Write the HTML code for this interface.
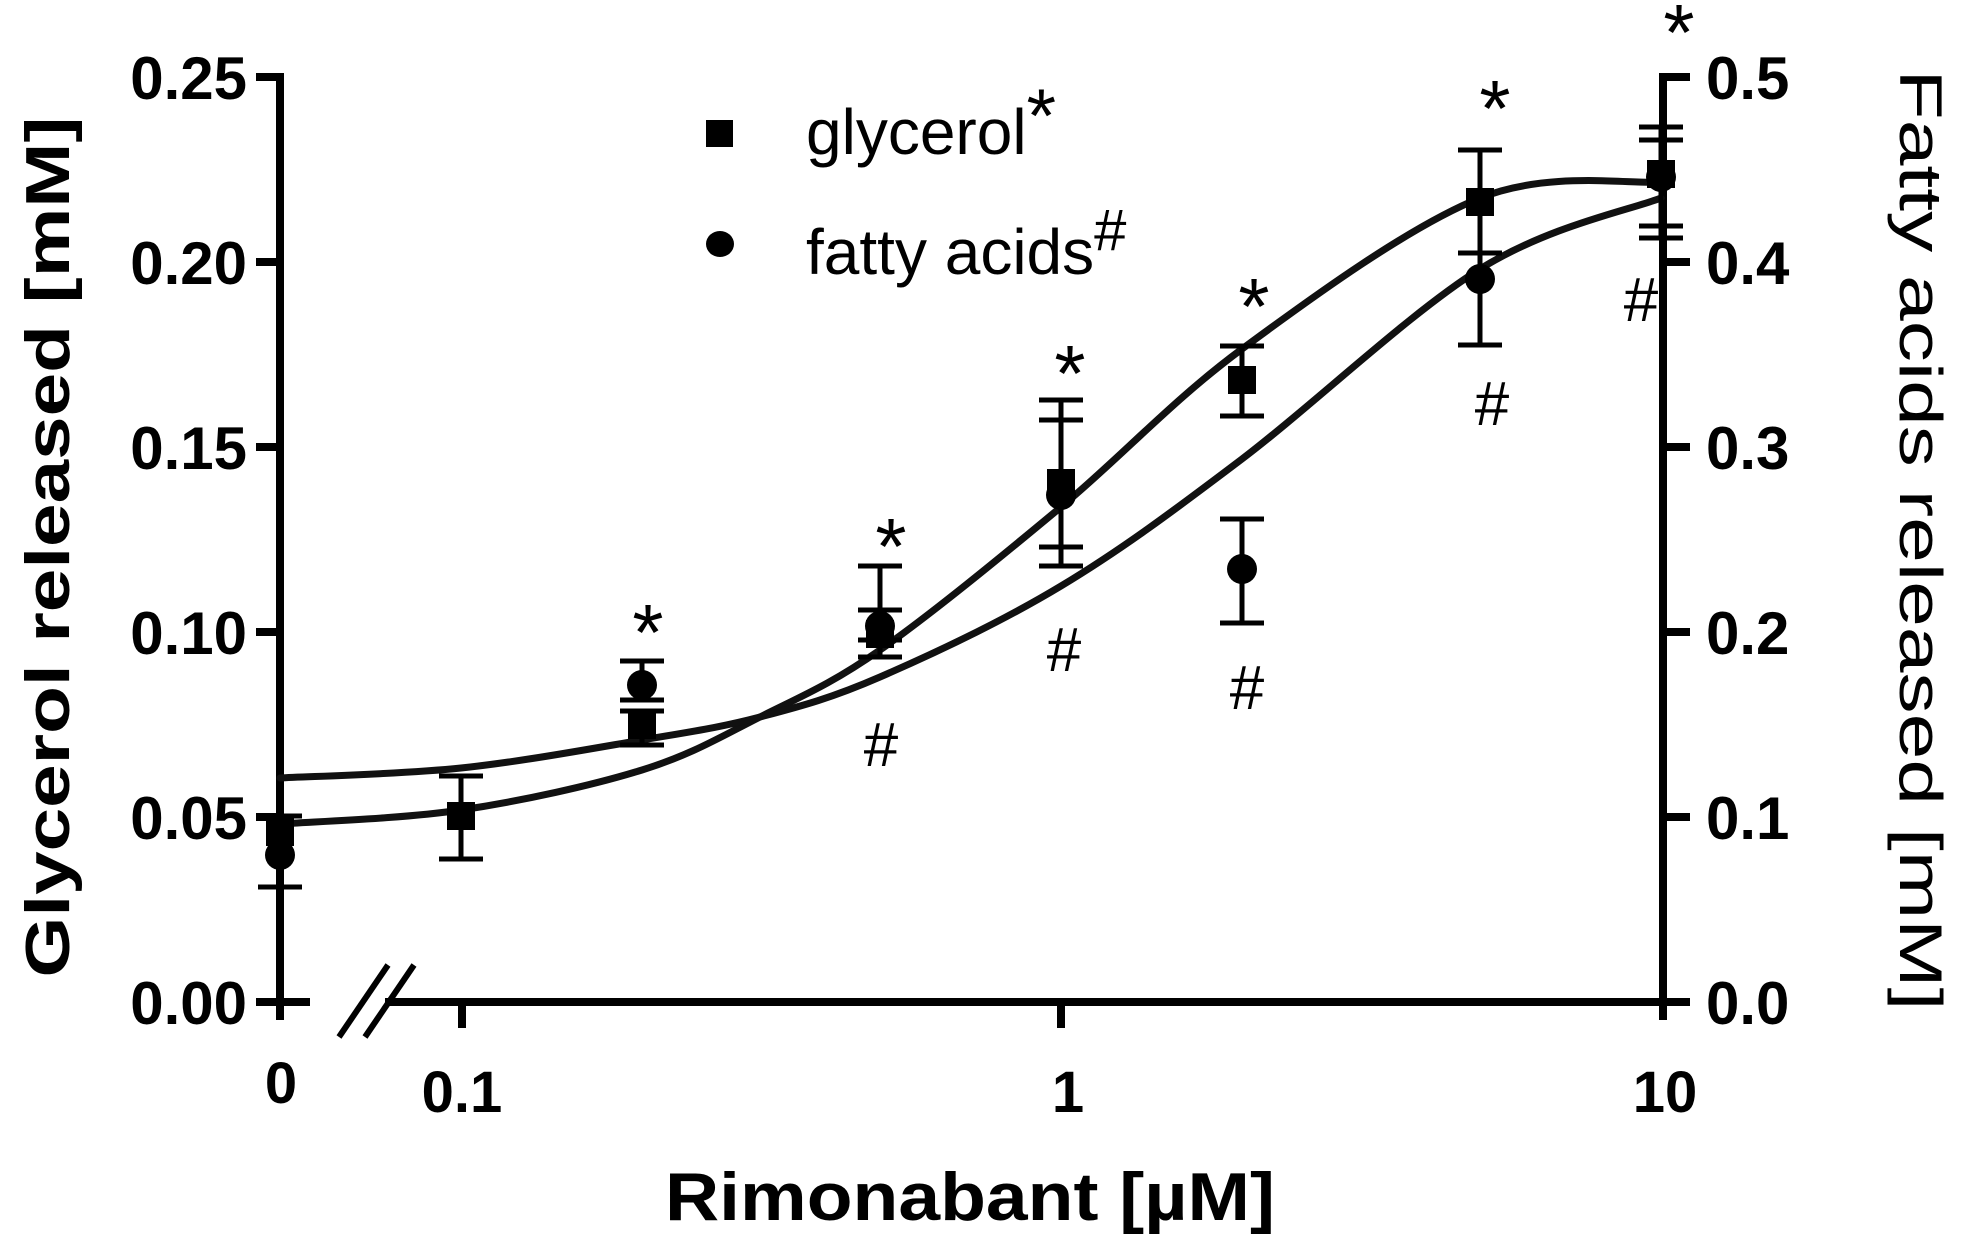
<!DOCTYPE html>
<html><head><meta charset="utf-8"><style>
html,body{margin:0;padding:0;background:#fff;}
svg{display:block;}
text{font-family:"Liberation Sans",Arial,sans-serif;fill:#000;}
.b{font-weight:bold;}
</style></head><body>
<svg id="s" width="1962" height="1242" viewBox="0 0 1962 1242" xmlns="http://www.w3.org/2000/svg">
<g stroke="#000" stroke-width="8" fill="none">
<line x1="280" y1="73" x2="280" y2="1020"/>
<line x1="276" y1="1002" x2="1690" y2="1002"/>
<line x1="1663" y1="73" x2="1663" y2="1020"/>
<line x1="256" y1="77" x2="280" y2="77"/>
<line x1="256" y1="262" x2="280" y2="262"/>
<line x1="256" y1="447" x2="280" y2="447"/>
<line x1="256" y1="632" x2="280" y2="632"/>
<line x1="256" y1="817" x2="280" y2="817"/>
<line x1="256" y1="1002" x2="280" y2="1002"/>
<line x1="1663" y1="77" x2="1690" y2="77"/>
<line x1="1663" y1="262" x2="1690" y2="262"/>
<line x1="1663" y1="447" x2="1690" y2="447"/>
<line x1="1663" y1="632" x2="1690" y2="632"/>
<line x1="1663" y1="817" x2="1690" y2="817"/>
<line x1="1663" y1="1002" x2="1690" y2="1002"/>
<line x1="462" y1="1002" x2="462" y2="1028"/>
<line x1="1061" y1="1002" x2="1061" y2="1028"/>
</g>
<rect x="310" y="990" width="75" height="30" fill="#fff"/>
<g stroke="#000" stroke-width="6">
<line x1="339" y1="1037" x2="388" y2="965"/>
<line x1="365" y1="1037" x2="414" y2="965"/>
</g>
<g font-size="60" text-anchor="end">
<text x="247" y="99" class="b">0.25</text>
<text x="247" y="284" class="b">0.20</text>
<text x="247" y="469" class="b">0.15</text>
<text x="247" y="654" class="b">0.10</text>
<text x="247" y="839" class="b">0.05</text>
<text x="247" y="1024" class="b">0.00</text>
</g>
<g font-size="60">
<text x="1706" y="99" class="b">0.5</text>
<text x="1706" y="284" class="b">0.4</text>
<text x="1706" y="469" class="b">0.3</text>
<text x="1706" y="654" class="b">0.2</text>
<text x="1706" y="839" class="b">0.1</text>
<text x="1706" y="1024" class="b">0.0</text>
</g>
<g font-size="58" text-anchor="middle">
<text x="281" y="1103" class="b">0</text>
<text x="462" y="1112" class="b">0.1</text>
<text x="1068" y="1112" class="b">1</text>
<text x="1665" y="1112" class="b">10</text>
</g>
<text x="970" y="1220" font-size="68" text-anchor="middle" class="b" textLength="610" lengthAdjust="spacingAndGlyphs">Rimonabant [µM]</text>
<text transform="translate(69,547) rotate(-90)" font-size="62" text-anchor="middle" class="b" textLength="861" lengthAdjust="spacingAndGlyphs">Glycerol released [mM]</text>
<text transform="translate(1900,540) rotate(90)" font-size="60" text-anchor="middle" textLength="941" lengthAdjust="spacingAndGlyphs">Fatty acids released [mM]</text>
<rect x="706" y="120" width="27" height="27" fill="#000"/>
<ellipse cx="720" cy="244" rx="14" ry="13" fill="#000"/>
<text x="806" y="154" font-size="64">glycerol<tspan font-size="76" dy="-12">*</tspan></text>
<text x="806" y="274" font-size="64">fatty acids<tspan font-size="58" dy="-24">#</tspan></text>
<g id="curves" stroke="#111" stroke-width="7" fill="none" stroke-linecap="round"></g>
<g id="err" stroke="#000" stroke-width="5" fill="none"></g>
<g id="pts" fill="#000"></g>
<g font-size="80" text-anchor="middle">
<text x="648" y="660">*</text>
<text x="891" y="574">*</text>
<text x="1070" y="401">*</text>
<text x="1254" y="334">*</text>
<text x="1495" y="136">*</text>
<text x="1679" y="60">*</text>
</g>
<g font-size="62" text-anchor="middle">
<text x="881" y="766">#</text>
<text x="1064" y="671">#</text>
<text x="1247" y="709">#</text>
<text x="1492" y="425">#</text>
<text x="1641" y="321">#</text>
</g>
</svg>
<script>
var NS="http://www.w3.org/2000/svg";
function cr(p){var d="M"+p[0][0]+","+p[0][1];for(var i=0;i<p.length-1;i++){var p0=p[i-1]||p[i],p1=p[i],p2=p[i+1],p3=p[i+2]||p2;var c1x=p1[0]+(p2[0]-p0[0])/6,c1y=p1[1]+(p2[1]-p0[1])/6,c2x=p2[0]-(p3[0]-p1[0])/6,c2y=p2[1]-(p3[1]-p1[1])/6;d+=" C"+c1x+","+c1y+" "+c2x+","+c2y+" "+p2[0]+","+p2[1];}return d;}
var g=[[280,824],[461,810],[642,770],[760,717],[880,650],[1061,507],[1242,349],[1480,198],[1661,182]];
var f=[[280,778],[461,768],[642,740],[760,717],[880,677],[1061,586],[1242,459],[1480,269],[1661,198]];
var cg=document.getElementById("curves");
[g,f].forEach(function(p){var e=document.createElementNS(NS,"path");e.setAttribute("d",cr(p));cg.appendChild(e);});
var err=document.getElementById("err");
function bar(x,y1,y2){var w=22;var s="M"+x+","+y1+" V"+y2+" M"+(x-w)+","+y1+" H"+(x+w)+" M"+(x-w)+","+y2+" H"+(x+w);var e=document.createElementNS(NS,"path");e.setAttribute("d",s);err.appendChild(e);}
bar(280,816,887);bar(461,776,859);bar(642,711,745);bar(642,661,700);bar(880,566,657);bar(880,610,640);
bar(1061,400,566);bar(1061,420,547);bar(1242,346,416);bar(1242,519,623);bar(1480,150,253);bar(1480,253,345);
bar(1661,127,238);bar(1661,140,226);
var pts=document.getElementById("pts");
function sq(x,y){var e=document.createElementNS(NS,"rect");e.setAttribute("x",x-14);e.setAttribute("y",y-14);e.setAttribute("width",28);e.setAttribute("height",28);pts.appendChild(e);}
function ci(x,y){var e=document.createElementNS(NS,"circle");e.setAttribute("cx",x);e.setAttribute("cy",y);e.setAttribute("r",15);pts.appendChild(e);}
[[280,832],[461,816],[642,725],[880,634],[1061,483],[1242,380],[1480,202],[1661,174]].forEach(function(p){sq(p[0],p[1]);});
[[280,855],[642,685],[880,626],[1061,495],[1242,569],[1480,279],[1661,177]].forEach(function(p){ci(p[0],p[1]);});
</script>
</body></html>
